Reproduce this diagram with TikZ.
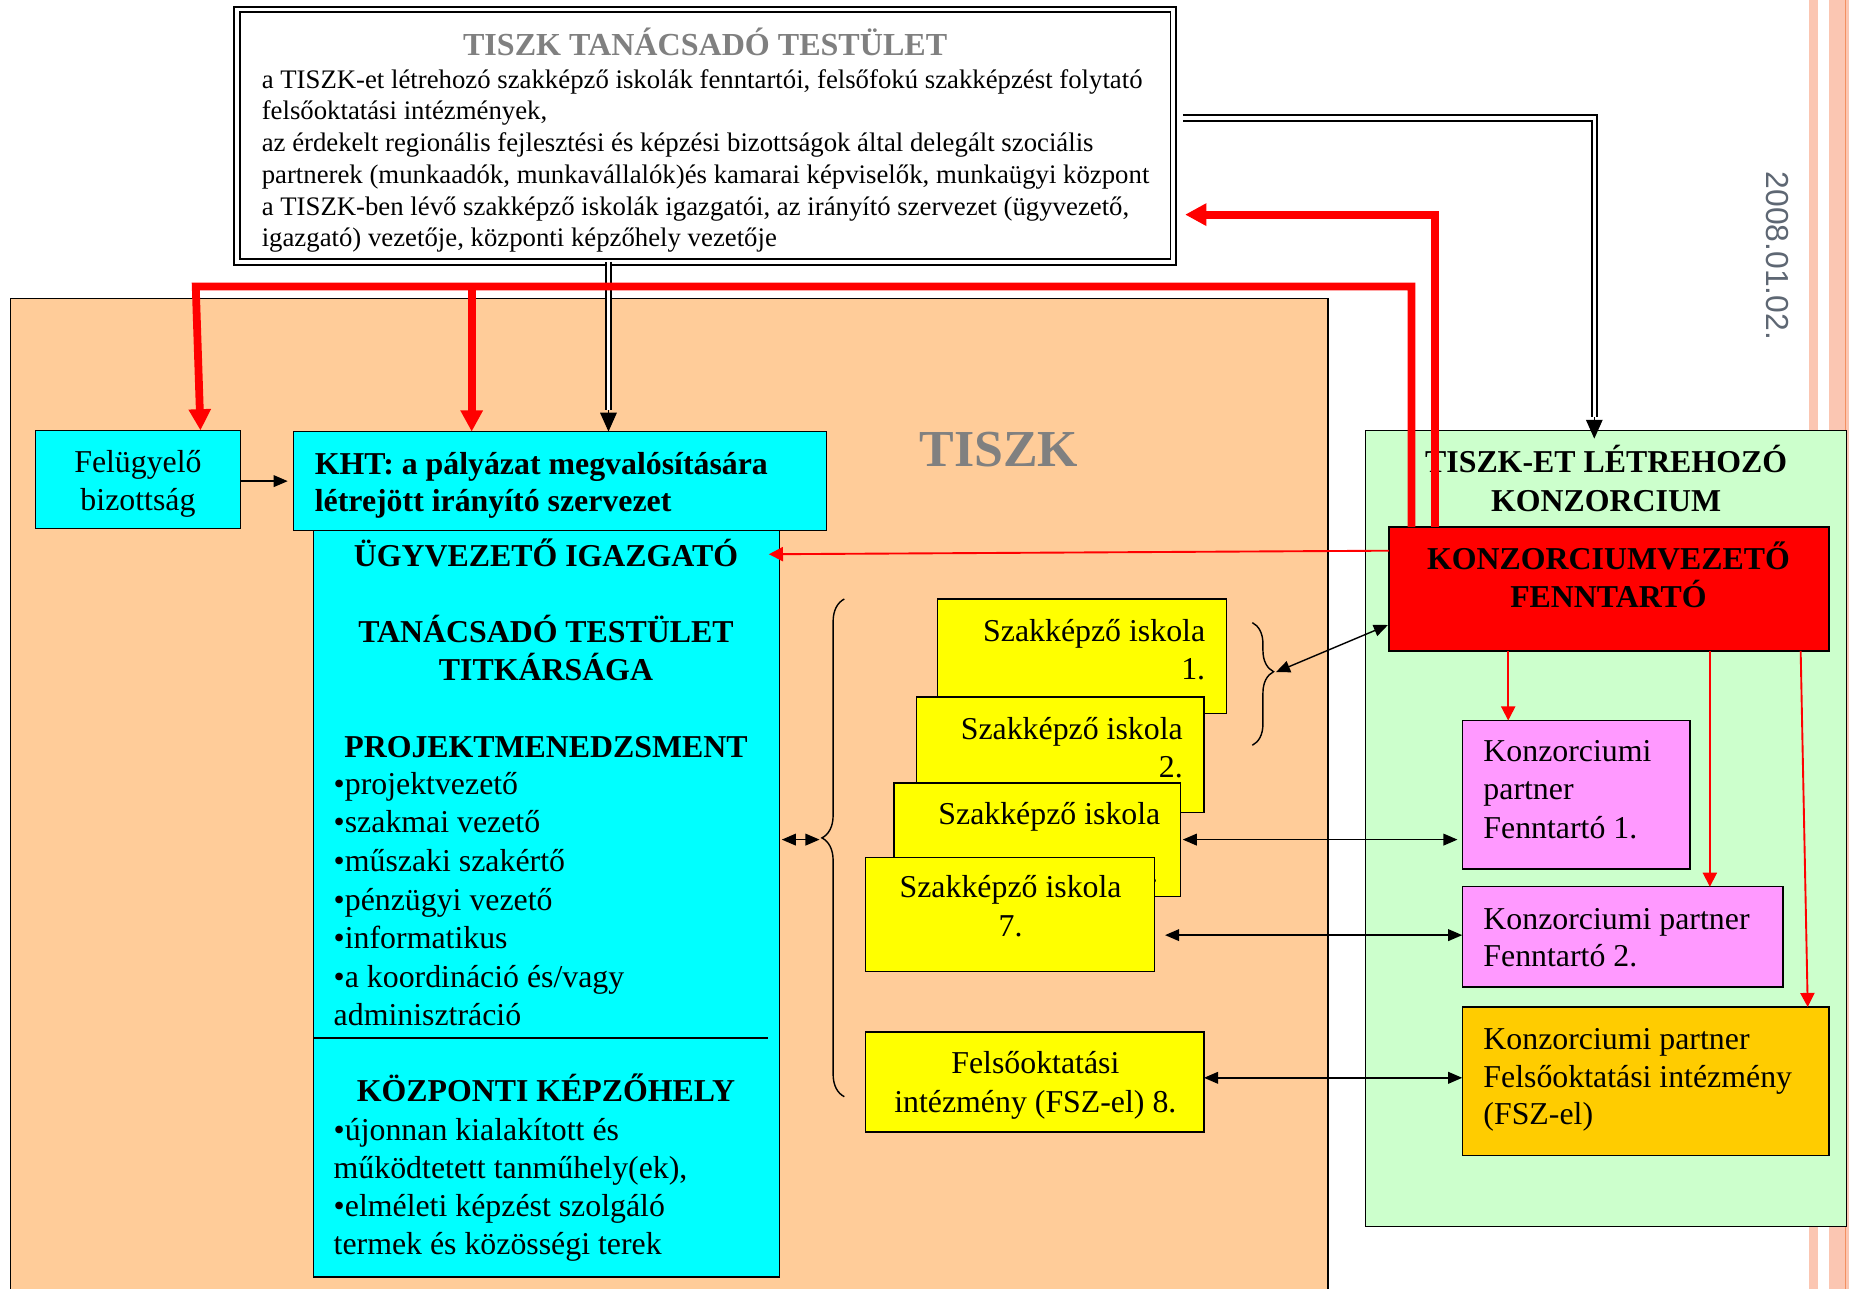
\documentclass[tikz,border=0pt]{standalone}
\usepackage{fontspec}
\setmainfont{Liberation Serif}
\newfontfamily\datefont{Liberation Sans}
\usetikzlibrary{arrows.meta,decorations.pathreplacing}

\definecolor{peach}{HTML}{FFCC99}
\definecolor{cyanb}{HTML}{00FFFF}
\definecolor{greenb}{HTML}{CCFFCC}
\definecolor{yellowb}{HTML}{FFFF00}
\definecolor{pinkb}{HTML}{FF99FF}
\definecolor{orangeb}{HTML}{FFCC00}
\definecolor{redb}{HTML}{FF0000}
\definecolor{titlegray}{HTML}{808080}
\definecolor{dategray}{HTML}{5E6773}
\definecolor{stripe}{HTML}{FBC6B2}
\definecolor{stripeline}{HTML}{F39060}

\newcommand{\fsm}{\fontsize{13.5}{16}\selectfont}
\newcommand{\fst}{\fontsize{11.35}{13}\selectfont}

\begin{document}
\begin{tikzpicture}[x=0.5pt,y=-0.5pt,
  box/.style={draw=black, line width=0.6pt, inner sep=0pt, outer sep=0pt, anchor=north west},
  txt/.style={inner sep=0pt, outer sep=0pt, font=\fsm},
  btxt/.style={inner sep=0pt, outer sep=0pt, font=\fsm\bfseries},
  ttxt/.style={inner sep=0pt, outer sep=0pt, font=\fst},
  blk/.style={draw=black, line width=0.6pt, -{Triangle[length=6pt,width=5pt]}},
  blkboth/.style={draw=black, line width=0.6pt, {Triangle[length=6pt,width=5pt]}-{Triangle[length=6pt,width=5pt]}},
  redthick/.style={draw=redb, line width=3.3pt, miter limit=10, -{Triangle[length=9pt,width=9pt]}},
  redthin/.style={draw=redb, line width=0.8pt, -{Triangle[length=6pt,width=6pt]}},
  dbl/.style={draw=black, double=white, line width=0.85pt, double distance=1.4pt},
  dbltip/.style={draw=black, line width=0.6pt, -{Triangle[length=8pt,width=7pt]}}
]
\useasboundingbox (0,0) rectangle (1568,1093);

% decorative stripes on the right edge
\fill[stripe] (1534,0) rectangle (1542,1093);
\fill[stripe] (1551,0) rectangle (1568,1093);
\draw[stripeline, line width=0.5pt] (1565,0) -- (1565,1093);

% date
\node[inner sep=0pt, rotate=-90, font=\datefont\fontsize{13.5}{16}\selectfont, text=dategray] (date) at (1507,217) {2008.01.02.};

% TISZK area
\node[box, draw=none, fill=peach, minimum width=558.5pt, minimum height=420pt] (tiszk) at (9,253) {};
\draw[line width=0.6pt] (tiszk.south west) -- (tiszk.north west) -- (tiszk.north east) -- (tiszk.south east);
\node[inner sep=0pt, font=\fontsize{22}{26}\selectfont\bfseries, text=titlegray, anchor=base] (tiszklabel) at (847,396) {TISZK};

% top advisory box
\node[box, fill=white, double=white, double distance=1.6pt, line width=0.8pt, minimum width=397pt, minimum height=107pt] (topbox) at (201,8) {};
\node[inner sep=0pt, font=\fontsize{13.6}{15}\selectfont\bfseries, text=titlegray, anchor=base] (toptitle) at (598,47) {TISZK TANÁCSADÓ TESTÜLET};
\node[ttxt, anchor=base west] (tl1) at (222,75) {a TISZK-et létrehozó szakképző iskolák fenntartói, felsőfokú szakképzést folytató};
\node[ttxt, anchor=base west] (tl2) at (222,101.5) {felsőoktatási intézmények,};
\node[ttxt, anchor=base west] (tl3) at (222,128.5) {az érdekelt regionális fejlesztési és képzési bizottságok által delegált szociális};
\node[ttxt, anchor=base west] (tl4) at (222,155.5) {partnerek (munkaadók, munkavállalók)és kamarai képviselők, munkaügyi központ};
\node[ttxt, anchor=base west] (tl5) at (222,182.5) {a TISZK-ben lévő szakképző iskolák igazgatói, az irányító szervezet (ügyvezető,};
\node[ttxt, anchor=base west] (tl6) at (222,209) {igazgató) vezetője, központi képzőhely vezetője};

% consortium area
\node[box, fill=greenb, minimum width=204pt, minimum height=337.5pt] (green) at (1158,365) {};
\node[btxt, anchor=base] (gt1) at (1362,401) {TISZK-ET LÉTREHOZÓ};
\node[btxt, anchor=base] (gt2) at (1362,434) {KONZORCIUM};

% left boxes
\node[box, fill=cyanb, minimum width=87pt, minimum height=41.5pt] (felugyelo) at (30,365) {};
\node[txt, anchor=base] (ft1) at (117,401) {Felügyelő};
\node[txt, anchor=base] (ft2) at (117,433) {bizottság};

\node[box, fill=cyanb, minimum width=226pt, minimum height=42pt] (kht) at (249,366) {};
\node[btxt, anchor=base west] (kt1) at (267,402) {KHT: a pályázat megvalósítására};
\node[btxt, anchor=base west] (kt2) at (267,434) {létrejött irányító szervezet};

\node[box, fill=cyanb, minimum width=197.5pt, minimum height=316.5pt] (cyanbig) at (266,450) {};
\node[btxt, anchor=base] (c1) at (463,480) {ÜGYVEZETŐ IGAZGATÓ};
\node[btxt, anchor=base] (c2) at (463,545) {TANÁCSADÓ TESTÜLET};
\node[btxt, anchor=base] (c3) at (463,577) {TITKÁRSÁGA};
\node[btxt, anchor=base] (c4) at (463,642) {PROJEKTMENEDZSMENT};
\node[txt, anchor=base west] (b1) at (283,674) {•projektvezető};
\node[txt, anchor=base west] (b2) at (283,706) {•szakmai vezető};
\node[txt, anchor=base west] (b3) at (283,739) {•műszaki szakértő};
\node[txt, anchor=base west] (b4) at (283,772) {•pénzügyi vezető};
\node[txt, anchor=base west] (b5) at (283,804) {•informatikus};
\node[txt, anchor=base west] (b6) at (283,837) {•a koordináció és/vagy};
\node[txt, anchor=base west] (b7) at (283,869.5) {adminisztráció};
\coordinate (sepL) at (266,880);
\coordinate (sepR) at (651,880);
\draw[line width=0.8pt] (sepL) -- (sepR);
\node[btxt, anchor=base] (c5) at (463,934) {KÖZPONTI KÉPZŐHELY};
\node[txt, anchor=base west] (d1) at (283,967) {•újonnan kialakított és};
\node[txt, anchor=base west] (d2) at (283,999) {működtetett tanműhely(ek),};
\node[txt, anchor=base west] (d3) at (283,1032) {•elméleti képzést szolgáló};
\node[txt, anchor=base west] (d4) at (283,1064) {termek és közösségi terek};

% schools
\node[box, fill=yellowb, minimum width=122.5pt, minimum height=48.5pt] (sz1) at (795,508) {};
\node[txt, anchor=base east] (s1a) at (1022,544) {Szakképző iskola};
\node[txt, anchor=base east] (s1b) at (1022,576) {1.};
\node[box, fill=yellowb, minimum width=122pt, minimum height=49pt] (sz2) at (777,591) {};
\node[txt, anchor=base east] (s2a) at (1003,627) {Szakképző iskola};
\node[txt, anchor=base east] (s2b) at (1003,659) {2.};
\node[box, fill=yellowb, minimum width=121.5pt, minimum height=48pt] (sz3) at (758,664) {};
\node[txt, anchor=base east] (s3a) at (984,699) {Szakképző iskola};
\node[txt, anchor=base east] (s3b) at (982,748) {3.};
\node[box, fill=yellowb, minimum width=122.5pt, minimum height=48.5pt] (sz7) at (734,727) {};
\node[txt, anchor=base] (s7a) at (857,761) {Szakképző iskola};
\node[txt, anchor=base] (s7b) at (857,794) {7.};
\node[box, fill=yellowb, minimum width=143.5pt, minimum height=42.5pt] (fo) at (734,875) {};
\node[txt, anchor=base] (foa) at (878,910) {Felsőoktatási};
\node[txt, anchor=base] (fob) at (878,943) {intézmény (FSZ-el) 8.};

% consortium boxes
\node[box, fill=redb, minimum width=186.5pt, minimum height=52.5pt] (redbox) at (1178,447) {};
\node[btxt, anchor=base] (r1) at (1364,483) {KONZORCIUMVEZETŐ};
\node[btxt, anchor=base] (r2) at (1364,515) {FENNTARTÓ};
\node[box, fill=pinkb, minimum width=96.5pt, minimum height=63pt] (kp1) at (1240,611) {};
\node[txt, anchor=base west] (p1a) at (1258,646) {Konzorciumi};
\node[txt, anchor=base west] (p1b) at (1258,678) {partner};
\node[txt, anchor=base west] (p1c) at (1258,711) {Fenntartó 1.};
\node[box, fill=pinkb, minimum width=136pt, minimum height=42.5pt] (kp2) at (1240,752) {};
\node[txt, anchor=base west] (p2a) at (1258,788) {Konzorciumi partner};
\node[txt, anchor=base west] (p2b) at (1258,820) {Fenntartó 2.};
\node[box, fill=orangeb, minimum width=155.5pt, minimum height=63pt] (kp3) at (1240,854) {};
\node[txt, anchor=base west] (p3a) at (1258,890) {Konzorciumi partner};
\node[txt, anchor=base west] (p3b) at (1258,922) {Felsőoktatási intézmény};
\node[txt, anchor=base west] (p3c) at (1258,954) {(FSZ-el)};

% braces
\coordinate (brBigBot) at (716,930);
\coordinate (brBigTop) at (716,508);
\draw[line width=0.6pt, decorate, decoration={brace, amplitude=9.5pt, aspect=0.52}] (brBigBot) -- (brBigTop);
\coordinate (brSmTop) at (1062,528);
\coordinate (brSmBot) at (1062,632);
\draw[line width=0.6pt, decorate, decoration={brace, amplitude=9pt, aspect=0.4}] (brSmTop) -- (brSmBot);
\coordinate (brBigTip) at (695,712);
\coordinate (brSmTip) at (1082,570);

% black connectors
\draw[blk, shorten >=2.5pt] (felugyelo.east |- kht.west) -- (kht.west);
\coordinate (cBoth) at (663,712);
\draw[blkboth] (cBoth) -- (brBigTip);
\coordinate (cRed) at (1177,530);
\draw[blkboth] (brSmTip) -- (cRed);
\coordinate (y712) at (1003,712);
\coordinate (y712b) at (1236,712);
\draw[blkboth] (y712) -- (y712b);
\coordinate (y793) at (988,793);
\draw[blkboth] (y793) -- (kp2.west |- y793);
\coordinate (y914) at (1022,914);
\draw[blkboth] (fo.east |- y914) -- (kp3.west |- y914);

% double black lines
\coordinate (dA) at (516,348);
\draw[dbl] (topbox.south -| dA) -- (dA);
\draw[dbltip] (dA) -- (kht.north -| dA);
\coordinate (dB) at (1003,100);
\coordinate (dC) at (1352,100);
\coordinate (dD) at (1352,354);
\draw[dbl] (dB) -- (dC) -- (dD);
\coordinate (dE) at (1352,372);
\draw[dbltip] (dD) -- (dE);

% thin red connectors
\coordinate (rU1) at (1178,467);
\coordinate (rU2) at (652,470);
\draw[redthin] (rU1) -- (rU2);
\coordinate (rk1) at (1279,552);
\draw[redthin] (rk1) -- (kp1.north -| rk1);
\coordinate (rk2) at (1450,552);
\draw[redthin] (rk2) -- (kp2.north -| rk2);
\coordinate (rk3) at (1527,552);
\coordinate (rk3b) at (1533,854);
\draw[redthin] (rk3) -- (rk3b);

% thick red connectors
\coordinate (rA) at (1197,243);
\coordinate (rB) at (166,243);
\coordinate (rC) at (400,243);
\coordinate (rF) at (170,365);
\draw[redthick] (redbox.north -| rA) -- (rA) -- (rB) -- (rF);
\draw[redthick] (rC) -- (kht.north -| rC);
\coordinate (rD) at (1217,182);
\coordinate (rE) at (1005,182);
\draw[redthick] (redbox.north -| rD) -- (rD) -- (rE);
\end{tikzpicture}
\end{document}
